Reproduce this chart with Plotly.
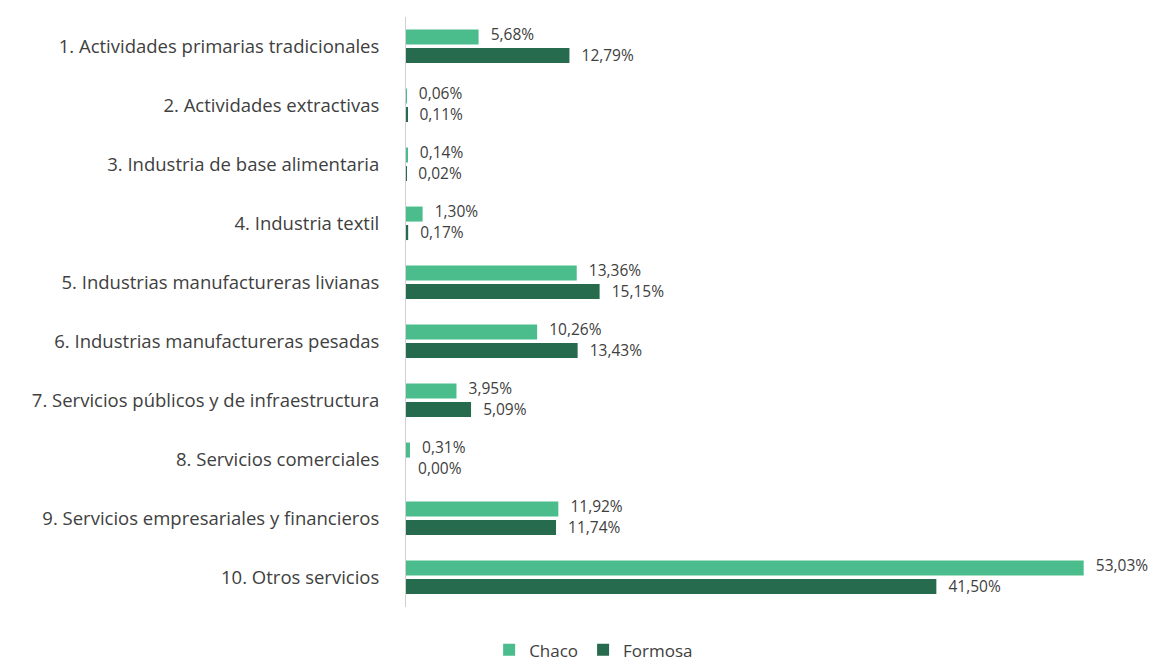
import plotly.graph_objects as go

categories = [
    "1. Actividades primarias tradicionales",
    "2. Actividades extractivas",
    "3. Industria de base alimentaria",
    "4. Industria textil",
    "5. Industrias manufactureras livianas",
    "6. Industrias manufactureras pesadas",
    "7. Servicios públicos y de infraestructura",
    "8. Servicios comerciales",
    "9. Servicios empresariales y financieros",
    "10. Otros servicios",
]
chaco = [5.68, 0.06, 0.14, 1.30, 13.36, 10.26, 3.95, 0.31, 11.92, 53.03]
formosa = [12.79, 0.11, 0.02, 0.17, 15.15, 13.43, 5.09, 0.00, 11.74, 41.50]

FONT = "Open Sans, sans-serif"
TXT = "#404040"
pad = "\u00a0\u00a0\u00a0"
pos = list(range(len(categories)))

# name, values, colour, bar offset, label offset
series = [("Chaco", chaco, "#4BBD8C", -0.16, -0.175),
          ("Formosa", formosa, "#276B4E", 0.153, 0.175)]
BW = 0.255

fig = go.Figure()
for name, vals, col, off, loff in series:
    fig.add_trace(go.Bar(
        y=pos, x=vals, name=name, orientation="h",
        marker=dict(color=col, line=dict(width=0)),
        width=BW, offset=off - BW / 2,
    ))
for name, vals, col, off, loff in series:
    fig.add_trace(go.Scatter(
        y=[p + loff for p in pos], x=vals, mode="text",
        text=[pad + f"{v:.2f}".replace(".", ",") + "%" for v in vals],
        textposition="middle right",
        textfont=dict(size=15.5, color=TXT, family=FONT),
        showlegend=False, hoverinfo="skip", cliponaxis=False,
    ))

fig.update_layout(
    width=1164, height=667,
    margin=dict(l=406, r=4, t=17, b=60),
    paper_bgcolor="white", plot_bgcolor="white",
    barmode="overlay",
    font=dict(family=FONT, color=TXT, size=16),
    xaxis=dict(range=[0, 59], showgrid=False, showticklabels=False, zeroline=False,
               showline=False, fixedrange=True),
    yaxis=dict(range=[9.5, -0.5], showgrid=False, showline=True, linecolor="#d0d0d0",
               linewidth=1, ticks="", ticklabelstandoff=22, zeroline=False,
               tickmode="array", tickvals=pos, ticktext=categories,
               tickfont=dict(size=18.5, color=TXT, family=FONT)),
    legend=dict(orientation="h", xref="container", yref="container", x=0.51, y=0.052,
                xanchor="center", yanchor="top", font=dict(size=17, color=TXT, family=FONT),
                traceorder="normal"),
)

fig.write_html("out.html")
